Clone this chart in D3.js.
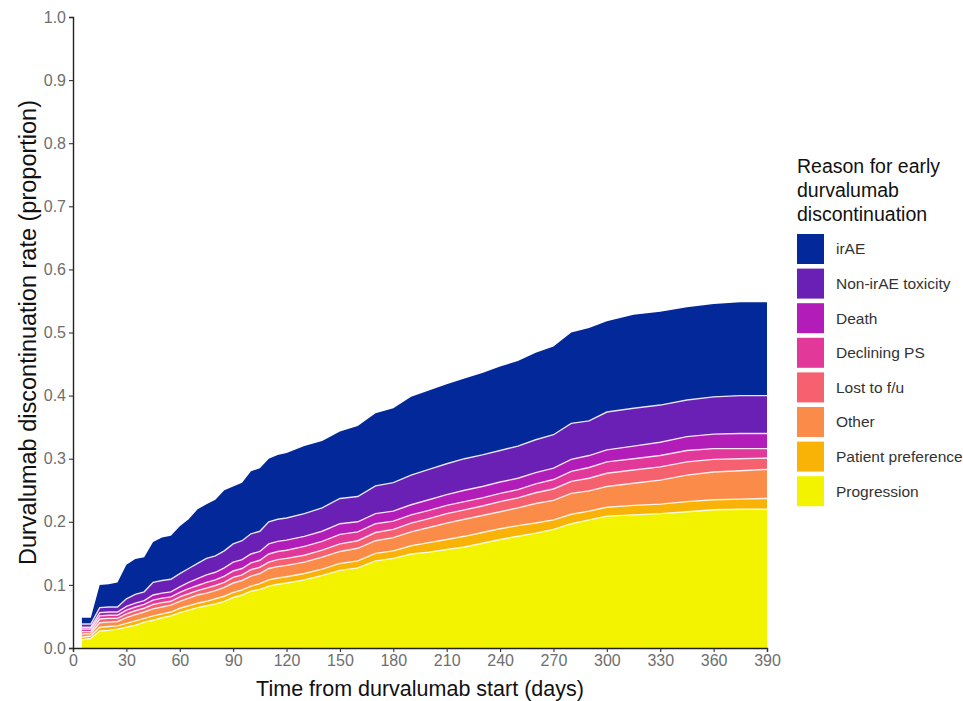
<!DOCTYPE html>
<html>
<head>
<meta charset="utf-8">
<script src="https://cdn.jsdelivr.net/npm/d3@7"></script>
<style>
  body { margin: 0; background: #fff; }
  svg { font-family: "Liberation Sans", Arial, sans-serif; }
</style>
</head>
<body>
<div id="chart"></div>
<script>
// days since durvalumab start
const days = [5,10,15,20,25,30,35,40,45,50,55,60,65,70,75,80,85,90,95,100,105,110,115,120,
  130,140,150,160,170,180,190,200,210,220,230,240,250,260,270,280,290,300,315,330,345,360,375,390];

// layer thickness for each reason
const progression = [.013,.015,.027,.028,.030,.033,.036,.041,.044,.048,.051,.056,.060,.064,.067,.070,.074,.080,.084,.090,
  .093,.098,.101,.103,.108,.115,.123,.127,.138,.142,.149,.152,.156,.160,.166,.172,.177,.182,.188,.197,.203,.209,.211,.213,.216,.219,.220,.220];
const patientPref = [.004,.004,.006,.006,.005,.006,.007,.006,.007,.006,.006,.007,.007,.007,.007,.008,.008,.008,.008,.008,
  .009,.010,.010,.010,.010,.010,.011,.011,.012,.012,.013,.015,.016,.017,.017,.017,.017,.016,.015,.015,.014,.014,.015,.015,.016,.016,.016,.017];
const other = [.005,.004,.007,.007,.007,.009,.010,.010,.011,.011,.011,.011,.012,.013,.013,.013,.014,.015,.015,.016,
  .016,.018,.018,.018,.018,.019,.019,.020,.020,.021,.022,.024,.026,.027,.027,.027,.028,.031,.031,.033,.032,.033,.035,.038,.042,.044,.045,.046];
const lost = [.004,.003,.006,.006,.005,.006,.006,.006,.007,.007,.006,.007,.007,.007,.008,.008,.008,.009,.009,.010,
  .010,.010,.011,.011,.011,.011,.012,.012,.013,.013,.014,.014,.015,.015,.015,.016,.016,.017,.018,.019,.020,.021,.021,.021,.021,.020,.019,.018];
const decliningPS = [.004,.004,.005,.005,.005,.006,.006,.006,.007,.007,.007,.007,.008,.008,.009,.009,.010,.010,.010,.011,
  .011,.013,.013,.013,.014,.014,.015,.014,.014,.013,.013,.013,.013,.013,.013,.013,.013,.014,.015,.016,.017,.018,.018,.018,.018,.017,.016,.015];
const death = [.003,.003,.005,.005,.005,.006,.006,.006,.008,.008,.008,.009,.010,.011,.012,.012,.013,.014,.014,.014,
  .014,.016,.016,.016,.016,.016,.017,.016,.016,.016,.016,.017,.017,.018,.018,.018,.018,.018,.018,.019,.019,.019,.020,.021,.022,.023,.024,.024];
const nonIrAE = [.005,.005,.008,.008,.008,.012,.014,.014,.020,.020,.020,.021,.022,.024,.026,.026,.027,.029,.030,.032,
  .032,.035,.035,.035,.036,.037,.040,.040,.044,.045,.047,.048,.049,.050,.050,.050,.051,.052,.053,.057,.055,.060,.060,.059,.058,.059,.060,.060];
const irAE = [.010,.010,.036,.036,.039,.054,.056,.055,.064,.068,.069,.075,.078,.086,.086,.089,.096,.091,.092,.099,
  .100,.100,.102,.103,.107,.106,.106,.112,.115,.118,.124,.125,.126,.127,.130,.133,.135,.138,.140,.144,.147,.144,.148,.148,.147,.147,.148,.148];

// legend order (top to bottom)
const reasons = ["irAE", "Non-irAE toxicity", "Death", "Declining PS", "Lost to f/u", "Other", "Patient preference", "Progression"];
const colors = ["#03289a", "#6a20b4", "#b21cb8", "#e2389a", "#f5616f", "#fa8b48", "#f9b306", "#f3f300"];
const xTicks = [0,30,60,90,120,150,180,210,240,270,300,330,360,390];
const yTicks = [0,0.1,0.2,0.3,0.4,0.5,0.6,0.7,0.8,0.9,1.0];

const series = {
  "irAE": irAE, "Non-irAE toxicity": nonIrAE, "Death": death, "Declining PS": decliningPS,
  "Lost to f/u": lost, "Other": other, "Patient preference": patientPref, "Progression": progression
};

const rows = days.map((d, i) => {
  const r = { day: d };
  reasons.forEach(k => r[k] = series[k][i]);
  return r;
});

const width = 963, height = 701;
const svg = d3.select('#chart').append('svg')
  .attr('width', width)
  .attr('height', height);

const x = d3.scaleLinear().domain([0, 390]).range([73, 767]);
const y = d3.scaleLinear().domain([0, 1]).range([648, 17]);
const color = d3.scaleOrdinal().domain(reasons).range(colors);

// stack from the bottom (Progression) up to irAE
const stackKeys = reasons.slice().reverse();
const stacked = d3.stack().keys(stackKeys)(rows);

const area = d3.area()
  .x(d => x(d.data.day))
  .y0(d => y(d[0]))
  .y1(d => y(d[1]));

svg.append('g').selectAll('path')
  .data(stacked)
  .enter()
  .append('path')
  .attr('d', area)
  .attr('fill', d => color(d.key));

// thin white lines along the top of each layer
const topLine = d3.line()
  .x(d => x(d.data.day))
  .y(d => y(d[1]));

svg.append('g').selectAll('path')
  .data(stacked.filter(s => s.key !== "irAE"))
  .enter()
  .append('path')
  .attr('d', topLine)
  .attr('fill', 'none')
  .attr('stroke', '#fff')
  .attr('stroke-opacity', 0.85)
  .attr('stroke-width', 1.4);

// axes
const xAxis = d3.axisBottom(x).tickValues(xTicks).tickSize(4).tickPadding(3).tickFormat(d3.format('d'));
const yAxis = d3.axisLeft(y).tickValues(yTicks).tickSize(4).tickPadding(3).tickFormat(d3.format('.1f'));

const gx = svg.append('g')
  .attr('transform', `translate(0, ${y(0)})`)
  .call(xAxis);
const gy = svg.append('g')
  .attr('transform', `translate(${x(0)}, 0)`)
  .call(yAxis);

[gx, gy].forEach(g => {
  g.select('.domain').attr('stroke', '#222').attr('stroke-width', 1.4);
  g.selectAll('.tick line').attr('stroke', '#333').attr('stroke-width', 1.1);
  g.selectAll('.tick text').attr('fill', '#6e6e6e').style('font-size', '16px');
});

// axis titles
svg.append('text')
  .attr('x', 420)
  .attr('y', 696)
  .attr('text-anchor', 'middle')
  .style('font-size', '21.5px')
  .attr('fill', '#111')
  .text('Time from durvalumab start (days)');

svg.append('text')
  .attr('transform', `translate(36, ${y(0.5)}) rotate(-90)`)
  .attr('text-anchor', 'middle')
  .style('font-size', '23.5px')
  .attr('fill', '#111')
  .text('Durvalumab discontinuation rate (proportion)');

// legend
const legend = svg.append('g').attr('transform', 'translate(797, 0)');
["Reason for early", "durvalumab", "discontinuation"].forEach((t, i) => {
  legend.append('text')
    .attr('x', 0)
    .attr('y', 173 + i * 24)
    .style('font-size', '19.5px')
    .attr('fill', '#111')
    .text(t);
});

const item = legend.selectAll('.key')
  .data(reasons)
  .enter()
  .append('g')
  .attr('class', 'key')
  .attr('transform', (d, i) => `translate(0, ${234 + i * 34.6})`);

item.append('rect')
  .attr('x', 0)
  .attr('width', 27)
  .attr('height', 30)
  .attr('fill', d => color(d));

item.append('text')
  .attr('x', 39)
  .attr('y', 15)
  .attr('dy', '0.35em')
  .style('font-size', '15.5px')
  .attr('fill', '#333')
  .text(d => d);
</script>
</body>
</html>
